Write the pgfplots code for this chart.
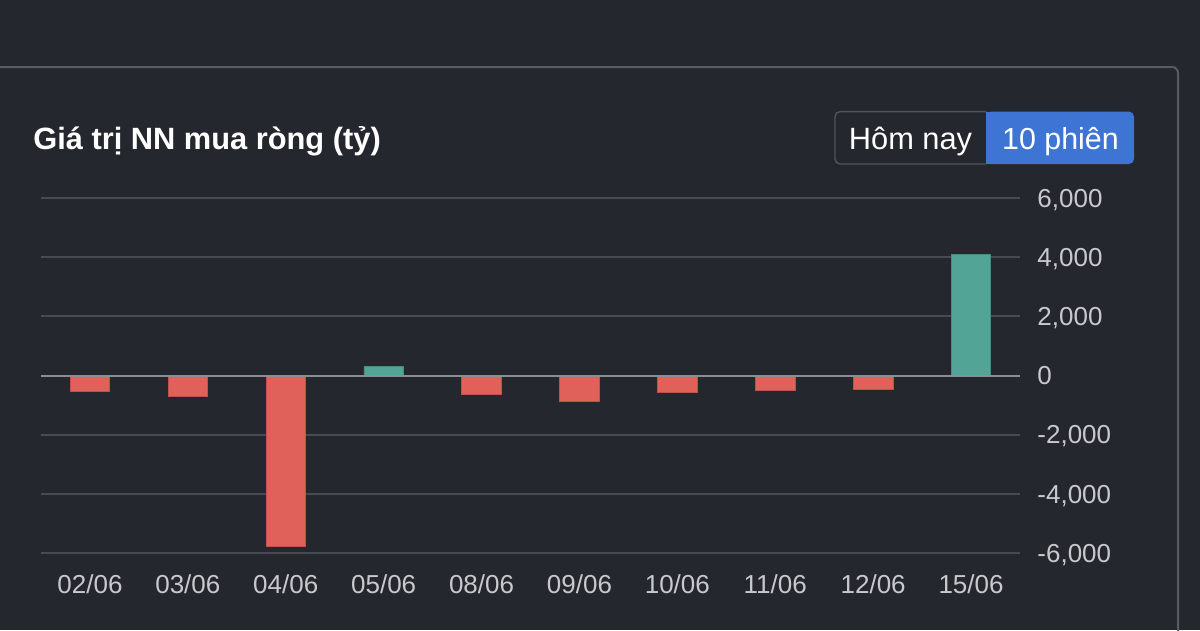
\documentclass[border=0pt]{standalone}
\usepackage{pgfplots}
\pgfplotsset{compat=1.18}
\usepackage{fontspec}
\setmainfont{Liberation Sans}
\definecolor{bg}{RGB}{37,39,46}
\definecolor{panelline}{RGB}{88,91,97}
\definecolor{gridc}{RGB}{72,75,82}
\definecolor{zeroc}{RGB}{140,142,148}
\definecolor{labelc}{RGB}{200,201,205}
\definecolor{barred}{RGB}{224,97,90}
\definecolor{barteal}{RGB}{82,165,150}
\definecolor{btnblue}{RGB}{62,116,212}
\definecolor{btnborder}{RGB}{80,83,90}
\begin{document}
\begin{tikzpicture}[x=1bp,y=1bp]
\fill[bg] (0,0) rectangle (600,315);
\useasboundingbox (0,0) rectangle (600,315);
\draw[panelline, line width=1bp, rounded corners=3bp] (-2,281.5) -- (589,281.5) -- (589,-2);
\node[anchor=base west, inner sep=0, text=white, font=\fontsize{15.4bp}{18bp}\selectfont\bfseries] at (16.5,240.5) {Giá trị NN mua ròng (tỷ)};
% buttons
\fill[btnblue, rounded corners=2.5bp] (493,233) rectangle (567,259.2);
\fill[btnblue] (493,233) rectangle (500,259.2);
\draw[btnborder, line width=0.7bp, rounded corners=2.5bp] (493,259.2) -- (417.5,259.2) -- (417.5,233) -- (493,233);
\node[anchor=base, inner sep=0, text=white, font=\fontsize{15.4bp}{18bp}\selectfont] at (455.25,240.5) {Hôm nay};
\node[anchor=base, inner sep=0, text=white, font=\fontsize{15.2bp}{18bp}\selectfont] at (530.25,240.5) {10 phiên};
\begin{axis}[
  at={(20.5bp,38.5bp)}, anchor=south west,
  scale only axis, width=489.5bp, height=177.5bp,
  xmin=-0.5, xmax=9.5, ymin=-6000, ymax=6000,
  axis line style={draw=none},
  major tick length=0pt,
  ymajorgrids, grid style={gridc, line width=0.9bp},
  ytick={-6000,-4000,-2000,0,2000,4000,6000},
  yticklabels={{-6,000},{-4,000},{-2,000},{0},{2,000},{4,000},{6,000}},
  yticklabel pos=right,
  yticklabel style={font=\fontsize{13bp}{15bp}\selectfont, text=labelc, anchor=base west, inner sep=0pt, xshift=8.5bp, yshift=-4.65bp},
  xtick={0,1,2,3,4,5,6,7,8,9},
  xticklabels={02/06,03/06,04/06,05/06,08/06,09/06,10/06,11/06,12/06,15/06},
  xticklabel style={font=\fontsize{13bp}{15bp}\selectfont, text=labelc, anchor=base, inner sep=0pt, yshift=-20bp},
  ybar, bar width=19.75bp,
  clip=false,
]
\addplot[bar shift=0pt, fill=barred, draw=barred!85!black, line width=0.4bp] coordinates {
(0,-550) (1,-690) (2,-5790) (4,-655) (5,-870) (6,-575) (7,-510) (8,-485)};
\addplot[bar shift=0pt, fill=barteal, draw=barteal!85!black, line width=0.4bp] coordinates {
(3,300) (9,4090)};
\draw[zeroc, line width=1bp] (axis cs:-0.5,0) -- (axis cs:9.5,0);
\end{axis}
\end{tikzpicture}
\end{document}
